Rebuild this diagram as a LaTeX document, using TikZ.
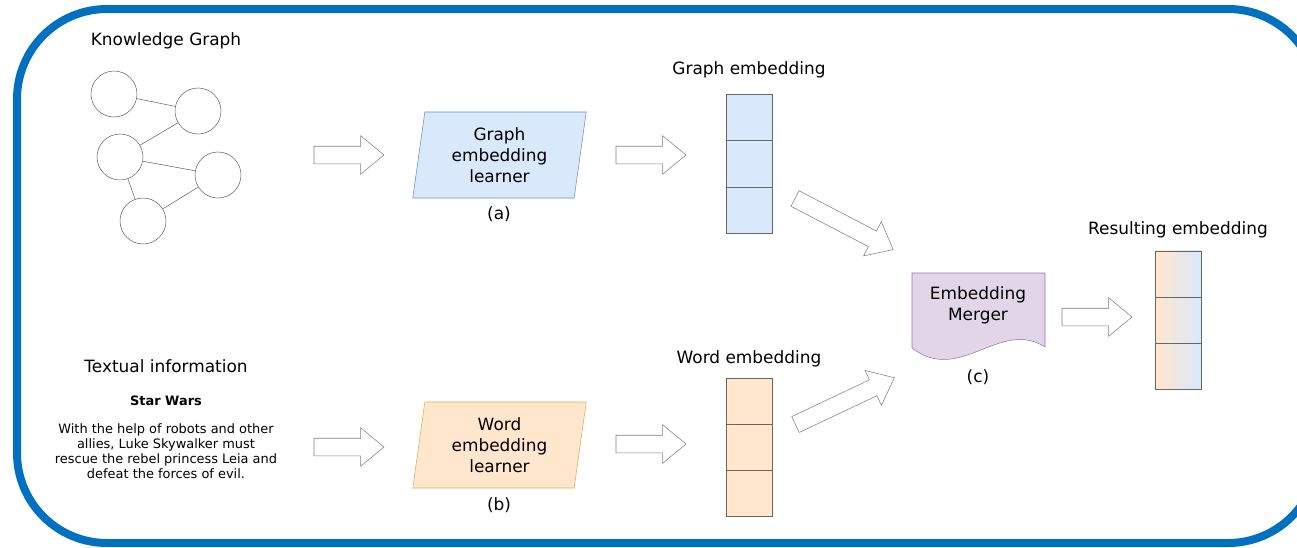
\documentclass[tikz,border=0pt]{standalone}
\usepackage{fontspec}
\setmainfont{DejaVu Sans}
\usetikzlibrary{shapes.geometric}
\usetikzlibrary{shapes.arrows}
\usetikzlibrary{positioning}
\definecolor{frameblue}{HTML}{0070C0}
\definecolor{graphfill}{HTML}{DAE8FC}
\definecolor{graphedge}{HTML}{6C8EBF}
\definecolor{wordfill}{HTML}{FFE6CC}
\definecolor{wordedge}{HTML}{D9B14F}
\definecolor{mergefill}{HTML}{E1D5E7}
\definecolor{mergeedge}{HTML}{9673A6}
\colorlet{cellgray}{black!60}
\colorlet{arrowgray}{black!50}

\begin{document}
\begin{tikzpicture}[x=0.75pt,y=-0.75pt,
		heading/.style={font=\fontsize{12.7}{15.75}\selectfont,inner sep=0,align=center},
		blurb/.style={font=\fontsize{9.7}{11.25}\selectfont,inner sep=0,align=center},
		entity/.style={circle,draw=cellgray,minimum size=34.5pt,inner sep=0},
		learner/.style={trapezium,trapezium left angle=82,trapezium right angle=98,trapezium stretches=true,minimum width=131pt,minimum height=64.5pt,inner sep=0,align=center,font=\fontsize{12.7}{15.75}\selectfont},
		cell/.style={draw=cellgray,minimum width=34.5pt,minimum height=34.7pt,inner sep=0,outer sep=0},
		bigarrow/.style={single arrow,draw=arrowgray,fill=white,minimum width=28.5pt,single arrow head extend=7.9pt,single arrow tip angle=79,inner xsep=0pt,inner ysep=6.375pt,outer sep=0,minimum height=52.5pt,anchor=tail}]
		\useasboundingbox (0,0) rectangle (1297,547);
		\begin{scope}
			\clip (0,0) rectangle (1297,547);
			\draw[frameblue,line width=6pt,rounded corners=67.5pt] (17,9) rectangle (1318,543);
		\end{scope}

		\node[heading] (kgtitle) at (166,41) {Knowledge Graph};
		\node[entity] (e1) at (114,94) {};
		\node[entity] (e2) at (198,111) {};
		\node[entity] (e3) at (120,157) {};
		\node[entity] (e4) at (218,175) {};
		\node[entity] (e5) at (143,221) {};
		\draw[cellgray] (e1) -- (e2) (e2) -- (e3) (e3) -- (e4) (e3) -- (e5) (e5) -- (e4);

		\node[bigarrow] (a1) at (314,155) {};
		\node[learner,fill=graphfill,draw=graphedge] (gel) at (499.5,155) {Graph\\embedding\\learner};
		\node[heading] (la) at (499,214) {(a)};
		\node[bigarrow] (a2) at (616,155) {};
		\node[heading] (gtitle) at (749,70) {Graph embedding};
		\node[cell,fill=graphfill] (g1) at (749,117.5) {};
		\node[cell,fill=graphfill,below=0pt of g1] (g2) {};
		\node[cell,fill=graphfill,below=0pt of g2] (g3) {};

		\node[heading] (txtitle) at (166,366) {Textual information};
		\node[blurb] (swtitle) at (166,401) {\textbf{Star Wars}};
		\node[blurb] (plot) at (166,451) {With the help of robots and other\\allies, Luke Skywalker must\\rescue the rebel princess Leia and\\defeat the forces of evil.};
		\node[bigarrow] (a3) at (314,447) {};
		\node[learner,fill=wordfill,draw=wordedge] (wel) at (499.5,445) {Word\\embedding\\learner};
		\node[heading] (lb) at (499,505) {(b)};
		\node[bigarrow] (a4) at (616,444) {};
		\node[heading] (wtitle) at (749,359) {Word embedding};
		\node[cell,fill=wordfill] (w1) at (749,401) {};
		\node[cell,fill=wordfill,below=0pt of w1] (w2) {};
		\node[cell,fill=wordfill,below=0pt of w2] (w3) {};

		\node[bigarrow,rotate=-27.5,minimum height=83pt] (a5) at (795,198.5) {};
		\node[bigarrow,rotate=25.3,minimum height=82pt] (a6) at (795.5,424.5) {};

		\draw[mergeedge,fill=mergefill] (912,273) -- (1045,273) -- (1045,347) .. controls (1000,318) and (960,385) .. (912,348) -- cycle;
		\node[heading] (merger) at (978,305.5) {Embedding\\Merger};
		\node[heading] (lc) at (978,377) {(c)};
		\node[bigarrow] (a7) at (1062,317) {};
		\node[heading] (rtitle) at (1178,230) {Resulting embedding};
		\node[cell,left color=wordfill,right color=graphfill] (r1) at (1178,274) {};
		\node[cell,left color=wordfill,right color=graphfill,below=0pt of r1] (r2) {};
		\node[cell,left color=wordfill,right color=graphfill,below=0pt of r2] (r3) {};
\end{tikzpicture}
\end{document}
